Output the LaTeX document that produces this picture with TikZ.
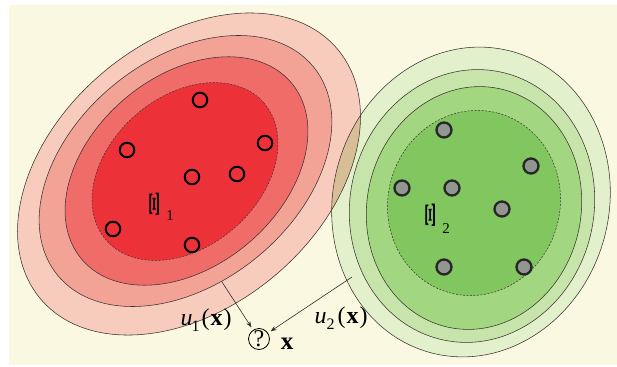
\documentclass[tikz,border=0pt]{standalone}
\usepackage{fontspec}
\setmainfont{Liberation Serif}
\usetikzlibrary{arrows.meta}
\definecolor{cream}{RGB}{250,248,224}
\definecolor{rA}{RGB}{248,204,188}
\definecolor{rB}{RGB}{243,163,150}
\definecolor{rC}{RGB}{239,108,104}
\definecolor{rD}{RGB}{236,50,56}
\definecolor{gA}{RGB}{226,240,203}
\definecolor{gB}{RGB}{199,229,170}
\definecolor{gC}{RGB}{163,214,128}
\definecolor{gD}{RGB}{130,198,96}
\definecolor{lens}{RGB}{216,190,150}
\definecolor{edge}{RGB}{60,50,50}
\definecolor{dotfill}{RGB}{145,150,145}
\newcommand\xiglyph{\scalebox{0.57}[1.5]{\rotatebox{90}{\fontsize{26}{26}\selectfont\bfseries Ξ}}}
\begin{document}
\begin{tikzpicture}[x=1pt,y=-1pt,
  ring/.style={draw=edge,line width=0.55pt},
  core/.style={draw=edge,line width=0.5pt,dash pattern=on 2pt off 1.5pt},
  RA/.style={rotate around={40:(189,174)}},
  RB/.style={rotate around={39:(185.5,171)}},
  RC/.style={rotate around={40:(186.5,171)}},
  RD/.style={rotate around={41:(185,171.5)}},
  GA/.style={rotate around={75:(471,202)}},
  GB/.style={rotate around={78:(472,206)}},
  GC/.style={rotate around={78:(474,208)}},
  GD/.style={rotate around={75:(474,203)}},
  hollow/.style={circle,draw=black,line width=2pt,minimum size=14.5pt,inner sep=0pt},
  filled/.style={circle,draw=black!85,line width=2.3pt,fill=dotfill,minimum size=15pt,inner sep=0pt},
  conn/.style={draw=edge!90!black,line width=0.6pt,-{Stealth[length=6pt,width=4.5pt]},shorten >=3pt},
  lbl/.style={inner sep=0pt,font=\fontsize{24}{24}\selectfont}
]
\useasboundingbox (0,0) rectangle (617,366);
\fill[white] (0,0) rectangle (617,366);
\fill[cream] (9,5) rectangle (617,365);

% green fills
\fill[gA,GA] (471,202) ellipse [x radius=156,y radius=138];
\fill[gB,GB] (472,206) ellipse [x radius=137,y radius=122];
\fill[gC,GC] (474,208) ellipse [x radius=122,y radius=107];
\fill[gD,GD] (474,203) ellipse [x radius=93,y radius=86];

% red fills
\fill[rA,RA] (189,174) ellipse [x radius=194,y radius=133];
\fill[rB,RB] (185.5,171) ellipse [x radius=165,y radius=112];
\fill[rC,RC] (186.5,171) ellipse [x radius=137,y radius=95];
\fill[rD,RD] (185,171.5) ellipse [x radius=104.5,y radius=75];

% overlap lens
\begin{scope}
  \clip[RA] (189,174) ellipse [x radius=194,y radius=133];
  \fill[lens,GA] (471,202) ellipse [x radius=156,y radius=138];
\end{scope}

% outlines
\draw[ring,GA] (471,202) ellipse [x radius=156,y radius=138];
\draw[ring,GB] (472,206) ellipse [x radius=137,y radius=122];
\draw[ring,GC] (474,208) ellipse [x radius=122,y radius=107];
\draw[core,GD] (474,203) ellipse [x radius=93,y radius=86];
\draw[ring,RA] (189,174) ellipse [x radius=194,y radius=133];
\draw[ring,RB] (185.5,171) ellipse [x radius=165,y radius=112];
\draw[ring,RC] (186.5,171) ellipse [x radius=137,y radius=95];
\draw[core,RD] (185,171.5) ellipse [x radius=104.5,y radius=75];

% red samples
\node[hollow] (r1) at (200,100) {};
\node[hollow] (r2) at (127,150) {};
\node[hollow] (r3) at (265,143) {};
\node[hollow] (r4) at (192,177) {};
\node[hollow] (r5) at (237,174) {};
\node[hollow] (r6) at (113,229) {};
\node[hollow] (r7) at (192,245) {};

% green samples
\node[filled] (s1) at (444,130) {};
\node[filled] (s2) at (531,166) {};
\node[filled] (s3) at (402,188) {};
\node[filled] (s4) at (452,188) {};
\node[filled] (s5) at (502,209) {};
\node[filled] (s6) at (444,267) {};
\node[filled] (s7) at (524,267) {};

% cluster labels
\node[inner sep=0pt] (xi1) at (155,204) {\xiglyph};
\node[inner sep=0pt,font=\fontsize{15}{15}\selectfont] (xi1s) at (170,216) {1};
\node[inner sep=0pt] (xi2) at (431,215) {\xiglyph};
\node[inner sep=0pt,font=\fontsize{15}{15}\selectfont] (xi2s) at (446,229) {2};

% query point
\node[circle,draw=black,line width=0.8pt,minimum size=21pt,inner sep=0pt,font=\fontsize{24}{24}\selectfont] (q) at (259,339) {?};
\node[inner sep=0pt,font=\fontsize{25}{25}\selectfont\bfseries] (xl) at (287,344) {x};

% memberships
\node[lbl] (u1) at (206,320) {\textit{u}\kern-1pt\raisebox{-6pt}{\fontsize{16}{16}\selectfont 1}\kern2pt(\kern1pt\textbf{x}\kern1pt)};
\node[lbl] (u2) at (341,318) {\textit{u}\kern0pt\raisebox{-6pt}{\fontsize{16}{16}\selectfont 2}\kern3pt(\kern1pt\textbf{x}\kern1pt)};

\coordinate (a1) at (222,282);
\coordinate (a2) at (352,277);
\draw[conn] (a1) -- (q);
\draw[conn] (a2) -- (q);
\end{tikzpicture}
\end{document}
